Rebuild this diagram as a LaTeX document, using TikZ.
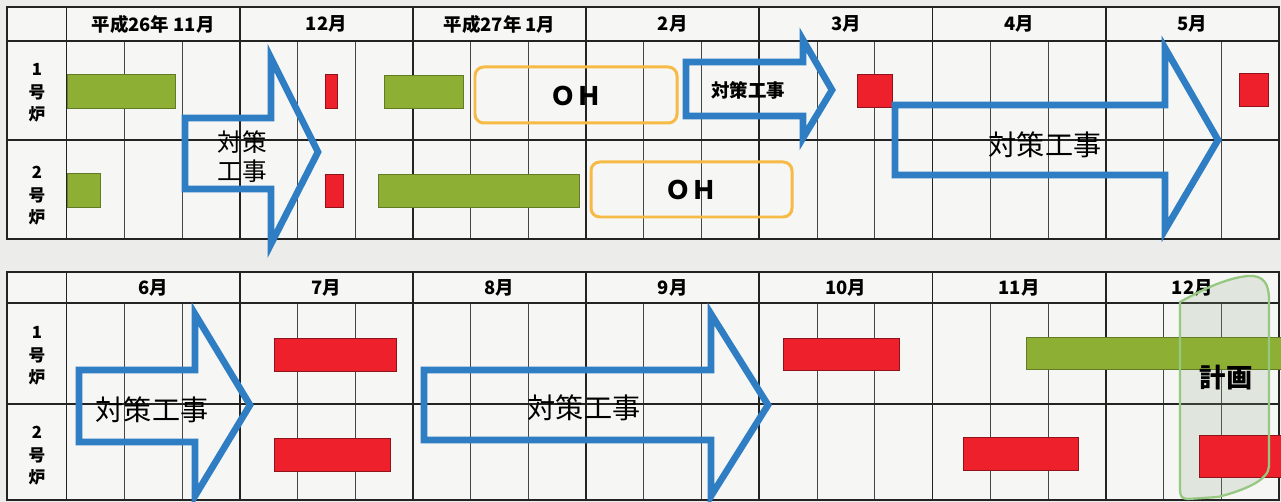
\documentclass[tikz,border=0pt]{standalone}
\usepackage{fontspec}
\setmainfont{Noto Sans CJK JP}
\definecolor{bg}{RGB}{236,236,234}
\definecolor{cell}{RGB}{246,246,244}
\definecolor{gline}{RGB}{35,35,35}
\definecolor{sline}{RGB}{70,70,70}
\definecolor{barg}{RGB}{141,176,52}
\definecolor{barr}{RGB}{238,32,44}
\definecolor{arrb}{RGB}{47,126,196}
\definecolor{ohc}{RGB}{246,186,70}
\definecolor{plang}{RGB}{150,200,130}
\begin{document}
\begin{tikzpicture}[x=0.02cm,y=-0.02cm,
  hdr/.style={font=\fontsize{10.5}{12}\selectfont\bfseries, inner sep=0pt},
  rowlbl/.style={font=\fontsize{9.5}{12.8}\selectfont\bfseries, align=center, inner sep=0pt},
  mainl/.style={draw=gline, line width=1.1pt},
  subl/.style={draw=sline, line width=0.55pt},
  gbar/.style={fill=barg, draw=barg!70!black, line width=0.4pt},
  rbar/.style={fill=barr, draw=barr!60!black, line width=0.4pt},
  bigarrow/.style={draw=arrb, line width=3.8pt, line join=miter, miter limit=10},
  ohbox/.style={draw=ohc, line width=1.7pt, rounded corners=5pt},
  arrtxt/.style={font=\fontsize{16}{18}\selectfont, inner sep=0pt},
  ohtxt/.style={font=\fontsize{14.5}{16}\selectfont\bfseries, inner sep=0pt},
]
\useasboundingbox (0,0) rectangle (1281,502);
\fill[bg] (0,0) rectangle (1281,502);

% grids
\foreach \T/\H/\R/\B in {7/41/140/239, 272/303/404/500} {
  \fill[cell] (7,\T) rectangle (1279,\B);
  \foreach \i in {0,...,6} {
    \pgfmathsetmacro\xa{66.5+173.2*\i+57.7}
    \pgfmathsetmacro\xb{66.5+173.2*\i+115.5}
    \draw[subl] (\xa,\H) -- (\xa,\B);
    \draw[subl] (\xb,\H) -- (\xb,\B);
  }
  \foreach \i in {0,...,7} {
    \pgfmathsetmacro\xm{66.5+173.2*\i}
    \draw[mainl] (\xm,\T) -- (\xm,\B);
  }
  \draw[mainl] (7,\H) -- (1279,\H);
  \draw[mainl] (7,\R) -- (1279,\R);
  \draw[mainl] (7,\T) rectangle (1279,\B);
}

% plan region fill (under the bars)
\def\planpath{(1180,302) .. controls (1198,292) and (1225,278) .. (1248,276)
  .. controls (1264,275) and (1269,284) .. (1269,300)
  -- (1269,466) .. controls (1269,480) and (1245,490) .. (1218,497)
  -- (1188,499) .. controls (1182,499) and (1180,496) .. (1180,490) -- cycle}
\fill[plang!50!gray, fill opacity=0.2] \planpath;

% headers top
\node[hdr] (h1) at (153.1,24) {平成26年\ 11月};
\node[hdr] (h2) at (326.3,24) {12月};
\node[hdr] (h3) at (499.5,24) {平成27年\ 1月};
\node[hdr] (h4) at (672.7,24) {2月};
\node[hdr] (h5) at (845.9,24) {3月};
\node[hdr] (h6) at (1019.1,24) {4月};
\node[hdr] (h7) at (1192.3,24) {5月};
% headers bottom
\node[hdr] (b1) at (153.1,288) {6月};
\node[hdr] (b2) at (326.3,288) {7月};
\node[hdr] (b3) at (499.5,288) {8月};
\node[hdr] (b4) at (672.7,288) {9月};
\node[hdr] (b5) at (845.9,288) {10月};
\node[hdr] (b6) at (1019.1,288) {11月};
\node[hdr] (b7) at (1192.3,288) {12月};

% row labels
\node[rowlbl] (r1) at (37,93) {1\\号\\炉};
\node[rowlbl] (r2) at (37,196) {2\\号\\炉};
\node[rowlbl] (r3) at (37,356) {1\\号\\炉};
\node[rowlbl] (r4) at (37,456) {2\\号\\炉};

% top bars
\draw[gbar] (67,74) rectangle (175,108);
\draw[rbar] (325,74) rectangle (337,108);
\draw[gbar] (384,75) rectangle (463,108);
\draw[rbar] (857,74) rectangle (892,107);
\draw[rbar] (1239,73) rectangle (1268,106);
\draw[gbar] (67,173) rectangle (100,207);
\draw[rbar] (325,174) rectangle (343,207);
\draw[gbar] (378,174) rectangle (579,207);

% OH boxes
\draw[ohbox] (475,67) rectangle (677,123);
\node[ohtxt] (oh1) at (576,96) {ＯＨ};
\draw[ohbox] (591,162) rectangle (792,217);
\node[ohtxt] (oh2) at (691,190) {ＯＨ};

% bottom bars
\draw[rbar] (274,338) rectangle (396,371);
\draw[rbar] (783,338) rectangle (899,370);
\draw[gbar] (1026,337) rectangle (1281,369);
\draw[rbar] (274,438) rectangle (390,471);
\draw[rbar] (963,437) rectangle (1078,470);
\draw[rbar] (1199,435) rectangle (1281,477);

% plan region outline
\draw[draw=plang, line width=1.3pt] \planpath;
\node[font=\fontsize{15}{17}\selectfont\bfseries, inner sep=0pt] (plan) at (1226,378) {計画};

% arrows
\draw[bigarrow] (185,118) -- (271,118) -- (271,58) -- (318,152) -- (271,244) -- (271,189) -- (185,189) -- cycle;
\node[font=\fontsize{14}{16.5}\selectfont, align=center, inner sep=0pt] (t1) at (242,157) {対策\\工事};

\draw[bigarrow] (686,62) -- (803,62) -- (803,40) -- (832,90) -- (803,138) -- (803,116) -- (686,116) -- cycle;
\node[font=\fontsize{10.5}{12}\selectfont\bfseries, inner sep=0pt] (t2) at (748,90) {対策工事};

\draw[bigarrow] (895,105) -- (1165,105) -- (1165,48) -- (1218,140) -- (1165,230) -- (1165,175) -- (895,175) -- cycle;
\node[arrtxt] (t3) at (1045,145) {対策工事};

\draw[bigarrow] (79,370) -- (195,370) -- (195,314) -- (250,405) -- (195,496) -- (195,442) -- (79,442) -- cycle;
\node[arrtxt] (t4) at (152,410) {対策工事};

\draw[bigarrow] (424,370) -- (711,370) -- (711,314) -- (768,405) -- (711,496) -- (711,440) -- (424,440) -- cycle;
\node[arrtxt] (t5) at (584,408) {対策工事};
\end{tikzpicture}
\end{document}
